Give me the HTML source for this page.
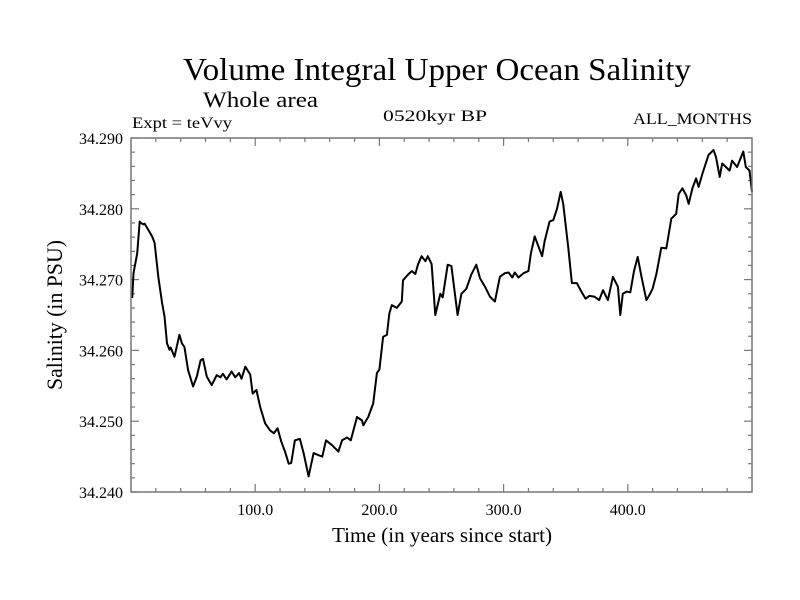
<!DOCTYPE html>
<html><head><meta charset="utf-8"><style>
html,body{margin:0;padding:0;background:#fff;width:800px;height:600px;overflow:hidden}
text{font-family:"Liberation Serif",serif;fill:#000}
</style></head><body>
<svg id="chart" width="800" height="600" viewBox="0 0 800 600" xmlns="http://www.w3.org/2000/svg">
<rect width="800" height="600" fill="#fff"/>
<text x="183" y="80" font-size="32" textLength="508" lengthAdjust="spacingAndGlyphs">Volume Integral Upper Ocean Salinity</text>
<text x="203" y="107" font-size="22" textLength="115" lengthAdjust="spacingAndGlyphs">Whole area</text>
<text x="132" y="128" font-size="16" textLength="100" lengthAdjust="spacingAndGlyphs">Expt = teVvy</text>
<text x="383" y="121" font-size="16" textLength="104" lengthAdjust="spacingAndGlyphs">0520kyr BP</text>
<text x="633" y="124" font-size="16" textLength="119" lengthAdjust="spacingAndGlyphs">ALL_MONTHS</text>
<text transform="translate(62,315) rotate(-90)" text-anchor="middle" font-size="22" textLength="150" lengthAdjust="spacingAndGlyphs">Salinity (in PSU)</text>
<text x="442" y="542" text-anchor="middle" font-size="21" textLength="220" lengthAdjust="spacingAndGlyphs">Time (in years since start)</text>
<g id="ticks"></g>
<g id="series"></g>
<rect x="131" y="138" width="621" height="354" fill="none" stroke="#777" stroke-width="1.5"/>
</svg>
<script>
const xTicks=[100,200,300,400];
const xTickLabels=["100.0","200.0","300.0","400.0"];
const yTicks=[34.24,34.25,34.26,34.27,34.28,34.29];
const yTickLabels=["34.240","34.250","34.260","34.270","34.280","34.290"];
const years=[1,2,5,7,8,10,11,17,19,22,25,27,29,31,32,35,39,41,43,46,50,53,56,58,61,65,69,72,74,77,81,84,87,89,92,96,98,101,104,108,112,115,118,121,124,127,129,132,136,139,143,147,151,154,157,162,167,170,174,177,182,186,187,191,195,198,200,203,206,208,210,214,218,219,223,226,229,231,234,237,239,242,245,249,251,255,258,263,266,270,274,278,281,285,289,293,297,301,304,307,309,312,316,320,322,325,328,331,333,337,340,343,346,348,352,355,359,362,366,369,373,377,380,384,388,392,394,396,399,402,405,408,411,415,417,420,423,427,431,435,439,441,444,447,449,452,455,457,460,465,469,471,474,476,479,482,484,488,493,495,498,500];
const salinity=[34.2674,34.2709,34.2737,34.2782,34.2780,34.2778,34.2779,34.2761,34.2752,34.2704,34.2667,34.2648,34.2610,34.2601,34.2604,34.2591,34.2622,34.2610,34.2605,34.2572,34.2549,34.2563,34.2586,34.2588,34.2563,34.2551,34.2565,34.2562,34.2567,34.2559,34.2570,34.2562,34.2568,34.2560,34.2577,34.2566,34.2539,34.2544,34.2520,34.2497,34.2487,34.2483,34.2490,34.2471,34.2457,34.2440,34.2441,34.2473,34.2475,34.2455,34.2422,34.2455,34.2452,34.2450,34.2473,34.2466,34.2457,34.2473,34.2477,34.2473,34.2506,34.2501,34.2494,34.2506,34.2525,34.2568,34.2573,34.2619,34.2622,34.2652,34.2664,34.2660,34.2669,34.2699,34.2707,34.2712,34.2708,34.2721,34.2733,34.2726,34.2733,34.2722,34.2650,34.2680,34.2675,34.2721,34.2719,34.2650,34.2680,34.2687,34.2707,34.2721,34.2702,34.2690,34.2676,34.2669,34.2704,34.2709,34.2710,34.2703,34.2710,34.2703,34.2709,34.2712,34.2737,34.2761,34.2747,34.2733,34.2754,34.2782,34.2784,34.2800,34.2824,34.2807,34.2746,34.2695,34.2695,34.2685,34.2673,34.2677,34.2676,34.2671,34.2685,34.2671,34.2704,34.2690,34.2650,34.2680,34.2683,34.2682,34.2712,34.2732,34.2704,34.2671,34.2677,34.2687,34.2708,34.2745,34.2744,34.2786,34.2793,34.2821,34.2829,34.2819,34.2807,34.2829,34.2843,34.2831,34.2849,34.2876,34.2883,34.2873,34.2845,34.2864,34.2859,34.2854,34.2868,34.2859,34.2881,34.2859,34.2854,34.2824];
const L=131,R=752,T=138,B=492;
const X0=0,X1=500,Y0=34.24,Y1=34.29;
function sx(v){return L+(v-X0)/(X1-X0)*(R-L);}
function sy(v){return B-(v-Y0)/(Y1-Y0)*(B-T);}
const NS="http://www.w3.org/2000/svg";
const tg=document.getElementById('ticks');
function line(x1,y1,x2,y2,name){const l=document.createElementNS(NS,'line');
l.setAttribute('x1',x1);l.setAttribute('y1',y1);l.setAttribute('x2',x2);l.setAttribute('y2',y2);
l.setAttribute('stroke','#777');l.setAttribute('stroke-width','1.2');


tg.appendChild(l);}
function txt(x,y,s,anchor,name){const t=document.createElementNS(NS,'text');
t.setAttribute('x',x);t.setAttribute('y',y);t.setAttribute('text-anchor',anchor);t.setAttribute('font-size','16');t.textContent=s;


tg.appendChild(t);}
for(let v=20;v<X1;v+=20){const x=sx(v);const major=v%100===0;const len=major?8:4;
line(x,B,x,B-len,'x-tick');line(x,T,x,T+len,'x-tick-top');}
for(let i=0;i<=25;i++){const v=Y0+i*0.002;const y=sy(v);const major=i%5===0;const len=major?8:4;
line(L,y,L+len,y,'y-tick');line(R,y,R-len,y,'y-tick-right');}
xTicks.forEach((v,i)=>txt(sx(v),515,xTickLabels[i],'middle','x-tick-label'));
yTicks.forEach((v,i)=>txt(123,sy(v)+6,yTickLabels[i],'end','y-tick-label'));
const p=document.createElementNS(NS,'polyline');
p.setAttribute('points',years.map((v,i)=>sx(v).toFixed(1)+','+sy(salinity[i]).toFixed(1)).join(' '));
p.setAttribute('fill','none');p.setAttribute('stroke','#000');p.setAttribute('stroke-width','2');p.setAttribute('stroke-linejoin','round');


document.getElementById('series').appendChild(p);
</script>
</body></html>
